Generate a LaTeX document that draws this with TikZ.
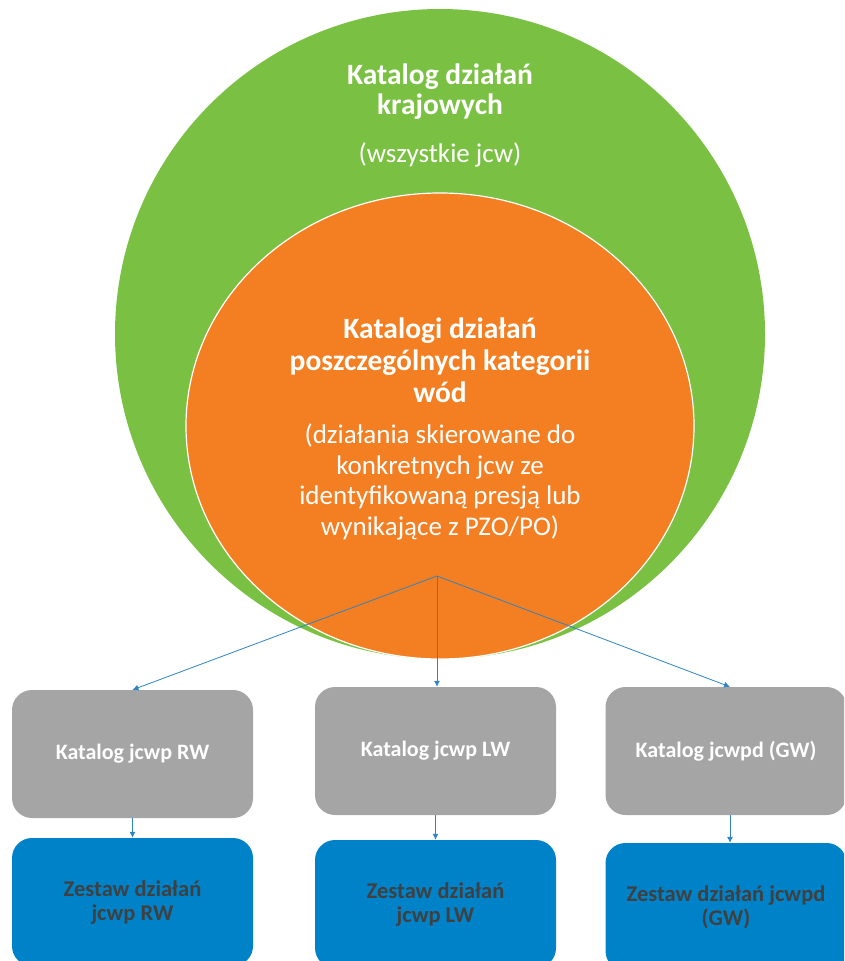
\documentclass[tikz,border=0pt]{standalone}
\usepackage{fontspec}
\setmainfont{Carlito}
\usetikzlibrary{arrows.meta, positioning, shapes.geometric}

\definecolor{krajgreen}{RGB}{122,193,67}
\definecolor{katorange}{RGB}{244,126,34}
\definecolor{boxgray}{RGB}{165,165,165}
\definecolor{boxblue}{RGB}{0,130,200}
\definecolor{darktext}{RGB}{64,64,64}
\definecolor{linkblue}{RGB}{46,132,196}

\begin{document}
\begin{tikzpicture}[x=1pt, y=-1pt,
        katalog/.style={rectangle, rounded corners=20pt, fill=boxgray, text=white, font=\bfseries\fontsize{22}{24}\selectfont, minimum width=241pt, minimum height=128pt, align=center},
        zestaw/.style={rectangle, rounded corners=20pt, fill=boxblue, text=darktext, font=\bfseries\fontsize{22.5}{24}\selectfont, minimum width=241pt, minimum height=128pt, align=center},
        line/.style={-{Latex[length=6pt, width=6pt]}, draw=linkblue, line width=0.8pt}
    ]
    \useasboundingbox (0,0) rectangle (844,961);
    \clip (0,0) rectangle (844,961);
    % circles
    \node[circle, fill=krajgreen, minimum size=650pt, inner sep=0pt] (kraj) at (440,334) {};
    \node[ellipse, fill=katorange, draw=white, line width=1.2pt, minimum width=508pt, minimum height=466pt, inner sep=0pt] (kat) at (440,426) {};
    \node[text=white, align=center, font=\bfseries\fontsize{29.5}{30}\selectfont] (krajtitle) at (440,92) {Katalog działań\\krajowych};
    \node[text=white, font=\fontsize{27}{30}\selectfont] (krajnote) at (440,155) {(wszystkie jcw)};
    \node[text=white, align=center, font=\bfseries\fontsize{29.5}{32}\selectfont] (kattitle) at (440,360) {Katalogi działań\\poszczególnych kategorii\\wód};
    \node[text=white, align=center, font=\fontsize{27}{30.5}\selectfont] (katnote) at (440,482) {(działania skierowane do\\konkretnych jcw ze\\identyfikowaną presją lub\\wynikające z PZO/PO)};
    % boxes
    \node[katalog] (rw) at (132.5,754) {Katalog jcwp RW};
    \node[katalog] (lw) at (435.5,751) {Katalog jcwp LW};
    \node[katalog] (gw) at (726,751) {Katalog jcwpd (GW)};
    \node[zestaw] (zrw) at (132.5,902) {Zestaw działań\\jcwp RW};
    \node[zestaw] (zlw) at (435.5,904) {Zestaw działań\\jcwp LW};
    \node[zestaw] (zgw) at (726,907) {Zestaw działań jcwpd\\(GW)};
    % connectors
    \coordinate (hub) at (437,576);
    \draw[line] (hub) -- (rw.north);
    \draw[line] (hub) -- (lw.north -| hub);
    \draw[line] (hub) -- (gw.north -| 730,0);
    \draw[line] (rw) -- (zrw);
    \draw[line] (lw) -- (zlw);
    \draw[line] (gw.south -| 730,0) -- (zgw.north -| 730,0);
\end{tikzpicture}
\end{document}
